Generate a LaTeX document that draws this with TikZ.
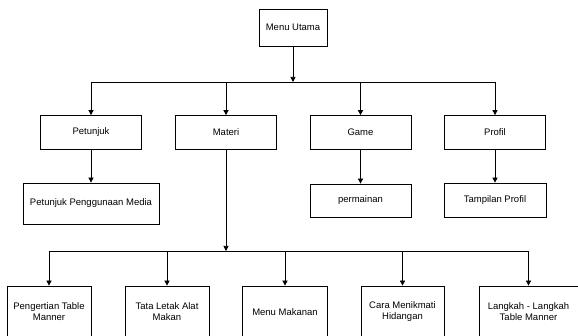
\documentclass[tikz,border=0pt]{standalone}
\usepackage{fontspec}
\setmainfont{Liberation Sans}
\usetikzlibrary{arrows.meta}

\begin{document}
\begin{tikzpicture}[
    x=1pt, y=-1pt,
    line width=0.7pt,
    menu/.style={rectangle, draw, align=center, inner sep=1pt,
        font=\fontsize{9.5}{11}\selectfont},
    >={Triangle[width=5pt, length=5pt]}
]
\useasboundingbox (0,0) rectangle (578,336);
\clip (0,0) rectangle (578,336);

\node[menu, minimum width=68pt, minimum height=37pt] (utama) at (293,27.5) {Menu Utama};

\node[menu, minimum width=101pt, minimum height=34pt] (petunjuk) at (91,132.5) {Petunjuk};
    \node[menu, minimum width=101pt, minimum height=34pt] (materi) at (226,132.5) {Materi};
    \node[menu, minimum width=101pt, minimum height=34pt] (game) at (360.5,132.5) {Game};
    \node[menu, minimum width=101pt, minimum height=34pt] (profil) at (495,132.5) {Profil};

\node[menu, minimum width=136pt, minimum height=41pt] (media) at (91,203.5) {Petunjuk Penggunaan Media};
    \node[menu, minimum width=101pt, minimum height=33pt] (main) at (360.5,200.5) {permainan};
    \node[menu, minimum width=102pt, minimum height=34pt] (tampil) at (495,200) {Tampilan Profil};

\node[menu, minimum width=84pt, minimum height=52pt] (tm) at (49,312) {Pengertian Table\\Manner};
    \node[menu, minimum width=84pt, minimum height=52pt] (alat) at (167,312) {Tata Letak Alat\\Makan};
    \node[menu, minimum width=85pt, minimum height=52pt] (makanan) at (285,312) {Menu Makanan};
    \node[menu, minimum width=83pt, minimum height=52pt] (hidang) at (402.5,312) {Cara Menikmati\\Hidangan};
    \node[menu, minimum width=99pt, minimum height=52pt] (langkah) at (528.5,312) {Langkah - Langkah\\Table Manner};

\coordinate (bus1) at (293,82);
\coordinate (bus2) at (226,251);

\draw[->] (utama) -- (bus1);
\draw (bus1 -| petunjuk) -- (bus1 -| profil);
\draw[->] (bus1 -| petunjuk) -- (petunjuk);
\draw[->] (bus1 -| materi) -- (materi);
\draw[->] (bus1 -| game) -- (game);
\draw[->] (bus1 -| profil) -- (profil);

\draw[->] (petunjuk) -- (media);
\draw[->] (game) -- (main);
\draw[->] (profil) -- (tampil);

\draw[->] (materi) -- (bus2);
\draw (bus2 -| tm) -- (bus2 -| langkah);
\draw[->] (bus2 -| tm) -- (tm);
\draw[->] (bus2 -| alat) -- (alat);
\draw[->] (bus2 -| makanan) -- (makanan);
\draw[->] (bus2 -| hidang) -- (hidang);
\draw[->] (bus2 -| langkah) -- (langkah);
\end{tikzpicture}
\end{document}
